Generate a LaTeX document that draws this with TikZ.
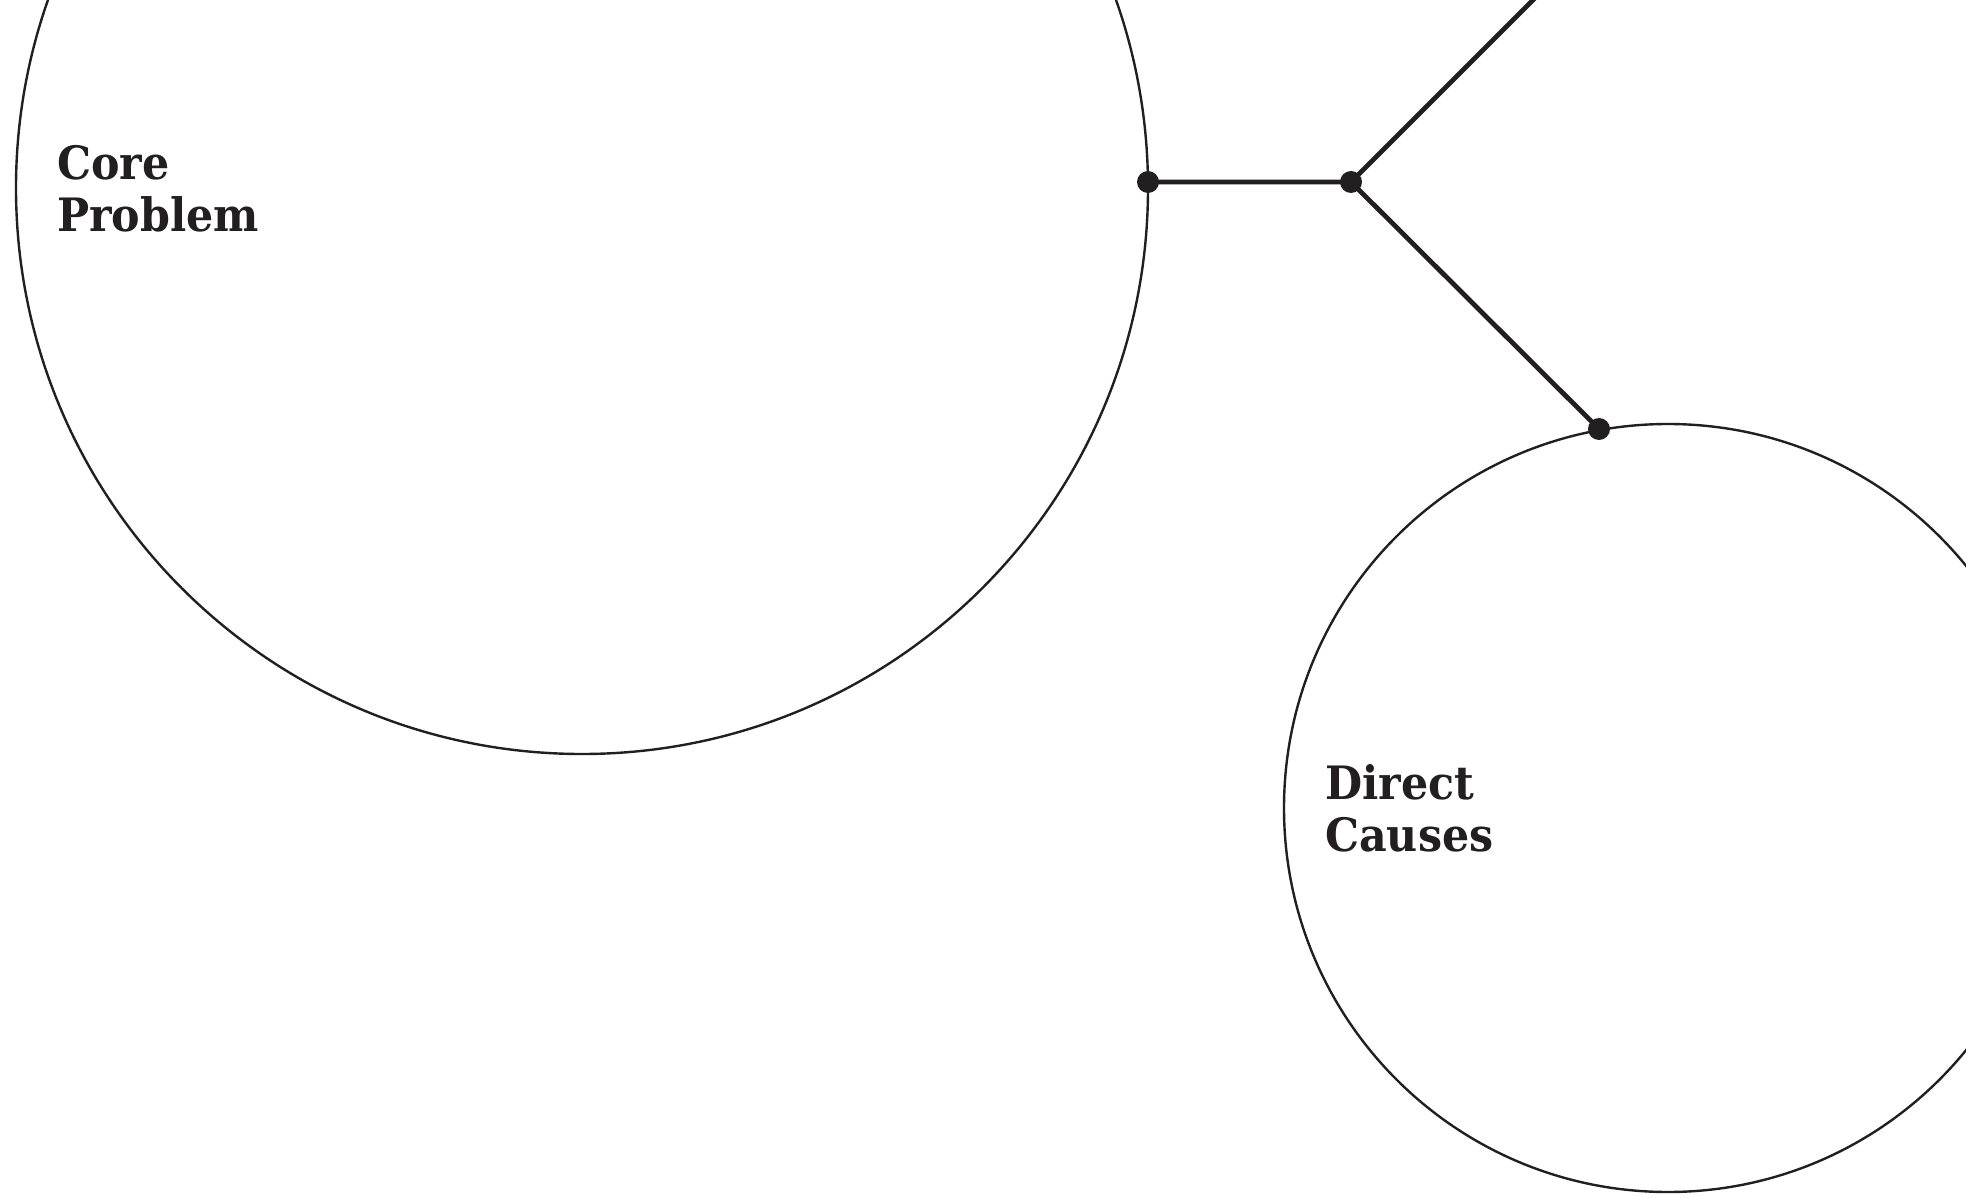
\documentclass[tikz,border=0pt]{standalone}
\usepackage{fontspec}
\newfontfamily\slab{DejaVu Serif}[FakeStretch=0.93]
\definecolor{ink}{RGB}{35,31,32}
\begin{document}
\begin{tikzpicture}[x=1pt,y=-1pt,
  ring/.style={circle,draw=ink,line width=2.4pt,inner sep=0pt},
  dot/.style={circle,fill=ink,inner sep=0pt,minimum size=22pt},
  link/.style={draw=ink,line width=4.8pt},
  lbl/.style={text=ink,font=\slab\bfseries\fontsize{46}{52}\selectfont,align=left,inner sep=0pt,anchor=base west}]
\useasboundingbox (0,0) rectangle (1966,1198);
\clip (0,0) rectangle (1966,1198);
\node[ring,minimum size=1132pt] (core) at (582,188) {};
\node[ring,minimum size=768pt] (causes) at (1668,808) {};
\node[dot] (j1) at (1148,182) {};
\node[dot] (j2) at (1351,182) {};
\node[dot] (j3) at (1599,429) {};
\coordinate (up) at (1601,-68);
\draw[link] (j1.center) -- (j2.center) -- (j3.center);
\draw[link] (j2.center) -- (up);
\node[lbl] (corelbl) at (57,232) {Core\\Problem};
\node[lbl] (causeslbl) at (1325,851) {Direct\\Causes};
\end{tikzpicture}
\end{document}
